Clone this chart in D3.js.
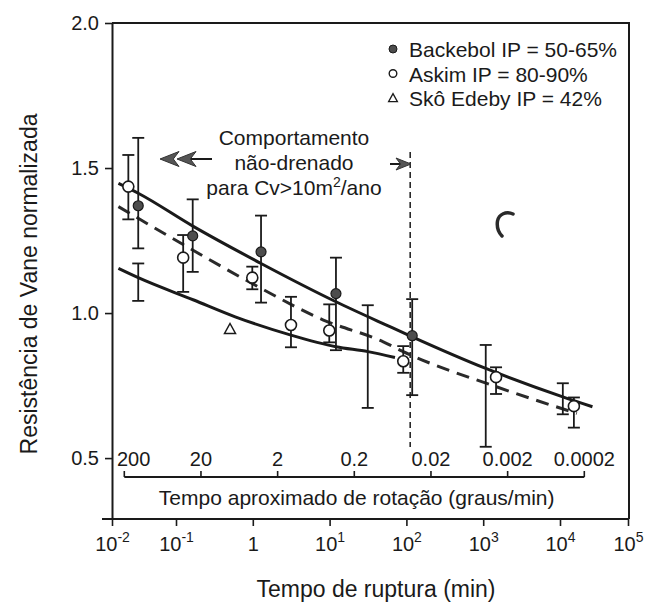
<!DOCTYPE html>
<html>
<head>
<meta charset="utf-8">
<script src="https://cdn.jsdelivr.net/npm/d3@7"></script>
<style>
  html, body { margin: 0; padding: 0; background: #fff; }
  svg text { font-family: "Liberation Sans", Arial, Helvetica, sans-serif; fill: #1a1a1a; }
</style>
</head>
<body>
<svg id="chart" width="645" height="607"></svg>
<script>
// Time to failure (min) and normalised vane strength
const backebol = [
  { t: 0.0257, v: 1.37,  lo: 1.223, hi: 1.604 },
  { t: 0.165,  v: 1.266, lo: 1.142, hi: 1.392 },
  { t: 1.28,   v: 1.211, lo: 1.036, hi: 1.336 },
  { t: 12.1,   v: 1.067, lo: 0.872, hi: 1.191 },
  { t: 119,    v: 0.922, lo: 0.717, hi: 1.048 }
];
const askim = [
  { t: 0.018, v: 1.436, lo: 1.323, hi: 1.545 },
  { t: 0.124, v: 1.191, lo: 1.073, hi: 1.269 },
  { t: 0.985, v: 1.122, lo: 1.082, hi: 1.16 },
  { t: 3.14,  v: 0.959, lo: 0.882, hi: 1.056 },
  { t: 9.9,   v: 0.940, lo: 0.899, hi: 1.030 },
  { t: 91,    v: 0.834, lo: 0.794, hi: 0.886 },
  { t: 1470,  v: 0.779, lo: 0.721, hi: 0.813 },
  { t: 16000, v: 0.679, lo: 0.605, hi: 0.709 }
];
const skoEdeby = [ { t: 0.505, v: 0.945 } ];
// ranges reported without a plotted mean
const rangesOnly = [
  { t: 0.0257, lo: 1.042, hi: 1.171 },
  { t: 31.4,   lo: 0.673, hi: 1.027 },
  { t: 1079,   lo: 0.539, hi: 0.890 },
  { t: 11000,  lo: 0.651, hi: 0.758 }
];
// fitted trends
const upperFit = [[0.0126,1.447],[0.0257,1.413],[0.17,1.298],[1.28,1.171],[12.1,1.039],[61,0.953],[119,0.918],[1080,0.809],[11000,0.711],[30000,0.677]];
const meanFit  = [[0.0126,1.367],[0.138,1.229],[0.98,1.102],[8.3,0.976],[50,0.901],[91,0.867],[1480,0.746],[17700,0.654]];
const lowerFit = [[0.0126,1.154],[0.0257,1.122],[0.17,1.045],[0.59,0.987],[3.14,0.924],[12.1,0.884],[31.6,0.867],[71,0.847]];

const timeTicks = [1e-2, 1e-1, 1, 1e1, 1e2, 1e3, 1e4, 1e5];
const timeExponents = ["-2", "-1", "", "1", "2", "3", "4", "5"];
const strengthTicks = [0.5, 1.0, 1.5, 2.0];
const rotationTicks = [200, 20, 2, 0.2, 0.02, 0.002, 0.0002];
const rotationLabels = ["200", "20", "2", "0.2", "0.02", "0.002", "0.0002"];
const undrainedLimit = 112;   // min
const legendItems = [
  { kind: "filled", label: "Backebol IP = 50-65%" },
  { kind: "open",   label: "Askim IP = 80-90%" },
  { kind: "tri",    label: "Skô Edeby IP = 42%" }
];

const svg = d3.select("#chart");
const ink = "#1a1a1a";

const x = d3.scaleLog().domain([1e-2, 1e-1, 1e4, 1e5]).range([112, 176, 560, 628]);
const y = d3.scaleLinear().domain([0.29, 2.0]).range([519, 23]);
const xr = d3.scaleLog().domain([200, 0.0002]).range([124.3, 584.3]);

// frame
svg.append("path")
  .attr("d", `M${x(1e-2)},${y(2.0)} H629 V${y(0.29)}`)
  .attr("fill", "none").attr("stroke", ink).attr("stroke-width", 2);
svg.append("line")
  .attr("x1", x(1e-2) - 10).attr("x2", x(1e5))
  .attr("y1", y(0.29)).attr("y2", y(0.29))
  .attr("stroke", ink).attr("stroke-width", 2);

// y axis
const yAxis = svg.append("g").attr("transform", `translate(${x(1e-2)},0)`)
  .call(d3.axisLeft(y).tickValues(strengthTicks).tickFormat(d3.format(".1f")).tickSize(7).tickSizeOuter(0));
yAxis.select(".domain").attr("stroke", ink).attr("stroke-width", 2);
yAxis.selectAll(".tick line").attr("stroke", ink).attr("stroke-width", 1.6);
yAxis.selectAll(".tick text").attr("font-size", 20).attr("x", -13).attr("fill", ink)
  .attr("font-family", '"Liberation Sans", Arial, sans-serif');

// x axis
const xAxis = svg.append("g").attr("transform", `translate(0,${y(0.29)})`)
  .call(d3.axisBottom(x).tickValues(timeTicks).tickFormat("").tickSize(7).tickSizeOuter(0));
xAxis.select(".domain").remove();
xAxis.selectAll(".tick line").attr("stroke", ink).attr("stroke-width", 1.6);
xAxis.selectAll(".tick").each(function (d, i) {
  const t = d3.select(this).append("text")
    .attr("y", 32).attr("text-anchor", "middle").attr("font-size", 20).attr("fill", ink)
    .attr("font-family", '"Liberation Sans", Arial, sans-serif');
  if (timeExponents[i] === "") {
    t.text("1");
  } else {
    t.append("tspan").text("10");
    t.append("tspan").attr("dy", -9).attr("font-size", 14).text(timeExponents[i]);
  }
});

// axis titles
svg.append("text").attr("x", 376).attr("y", 597).attr("text-anchor", "middle")
  .attr("font-size", 23).text("Tempo de ruptura (min)");
svg.append("text").attr("transform", "translate(37,284) rotate(-90)")
  .attr("text-anchor", "middle").attr("font-size", 23).text("Resistência de Vane normalizada");

// rotation-rate scale
const rb = 477;
svg.append("line").attr("x1", xr(200)).attr("x2", xr(0.0002)).attr("y1", rb).attr("y2", rb)
  .attr("stroke", ink).attr("stroke-width", 1.8);
svg.selectAll(".rtick").data(rotationTicks).join("line")
  .attr("x1", d => xr(d)).attr("x2", d => xr(d)).attr("y1", rb).attr("y2", rb - 6)
  .attr("stroke", ink).attr("stroke-width", 1.6);
svg.selectAll(".rlab").data(rotationTicks).join("text")
  .attr("x", (d, i) => i === 0 ? x(1e-2) + 5 : xr(d))
  .attr("y", 466)
  .attr("text-anchor", (d, i) => i === 0 ? "start" : "middle")
  .attr("font-size", 20)
  .text((d, i) => rotationLabels[i]);
svg.append("text").attr("x", 356.7).attr("y", 505).attr("text-anchor", "middle")
  .attr("font-size", 21).text("Tempo aproximado de rotação (graus/min)");

// undrained limit
svg.append("line")
  .attr("x1", x(undrainedLimit)).attr("x2", x(undrainedLimit))
  .attr("y1", 152).attr("y2", 447)
  .attr("stroke", ink).attr("stroke-width", 1.5).attr("stroke-dasharray", "6,4");

// fitted trends
const line = d3.line().x(d => x(d[0])).y(d => y(d[1])).curve(d3.curveMonotoneX);
svg.append("path").attr("d", line(upperFit)).attr("fill", "none").attr("stroke", ink).attr("stroke-width", 3);
svg.append("path").attr("d", line(lowerFit)).attr("fill", "none").attr("stroke", ink).attr("stroke-width", 3);
svg.append("path").attr("d", line(meanFit)).attr("fill", "none").attr("stroke", "#2a2a2a")
  .attr("stroke-width", 3).attr("stroke-dasharray", "13,8");

// error bars
function errorBars(data) {
  const g = svg.append("g").attr("stroke", ink).attr("stroke-width", 1.8);
  data.forEach(d => {
    const cx = x(d.t);
    g.append("line").attr("x1", cx).attr("x2", cx).attr("y1", y(d.lo)).attr("y2", y(d.hi));
    g.append("line").attr("x1", cx - 6).attr("x2", cx + 6).attr("y1", y(d.lo)).attr("y2", y(d.lo));
    g.append("line").attr("x1", cx - 6).attr("x2", cx + 6).attr("y1", y(d.hi)).attr("y2", y(d.hi));
  });
}
errorBars(rangesOnly);
errorBars(backebol);
errorBars(askim);

// markers
const tri = s => `M0,${-s * 0.55}L${s * 0.55},${s * 0.45}L${-s * 0.55},${s * 0.45}Z`;
svg.selectAll(".askim").data(askim).join("circle")
  .attr("cx", d => x(d.t)).attr("cy", d => y(d.v)).attr("r", 5.5)
  .attr("fill", "#fff").attr("stroke", ink).attr("stroke-width", 1.6);
svg.selectAll(".backebol").data(backebol).join("circle")
  .attr("cx", d => x(d.t)).attr("cy", d => y(d.v)).attr("r", 5)
  .attr("fill", "#4d4d4d").attr("stroke", ink).attr("stroke-width", 1.2);
svg.selectAll(".sko").data(skoEdeby).join("path")
  .attr("transform", d => `translate(${x(d.t)},${y(d.v)})`)
  .attr("d", tri(10)).attr("fill", "none").attr("stroke", ink).attr("stroke-width", 1.5);

// legend
const lg = svg.append("g");
legendItems.forEach((it, i) => {
  const cy = 49 + i * 24.5;
  if (it.kind === "filled") {
    lg.append("circle").attr("cx", 393).attr("cy", cy).attr("r", 4).attr("fill", "#4d4d4d").attr("stroke", ink);
  } else if (it.kind === "open") {
    lg.append("circle").attr("cx", 393).attr("cy", cy).attr("r", 3.8).attr("fill", "#fff").attr("stroke", ink).attr("stroke-width", 1.4);
  } else {
    lg.append("path").attr("transform", `translate(393,${cy})`).attr("d", tri(8))
      .attr("fill", "none").attr("stroke", ink).attr("stroke-width", 1.3);
  }
  lg.append("text").attr("x", 409).attr("y", cy + 8).attr("font-size", 21).text(it.label);
});

// annotation
const note = svg.append("g").attr("font-size", 21).attr("text-anchor", "middle");
note.append("text").attr("x", 294).attr("y", 145).text("Comportamento");
note.append("text").attr("x", 294).attr("y", 170).text("não-drenado");
const t3 = note.append("text").attr("x", 294).attr("y", 195);
t3.append("tspan").text("para Cv>10m");
t3.append("tspan").attr("dy", -8).attr("font-size", 14).text("2");
t3.append("tspan").attr("dy", 8).text("/ano");

// arrows
function arrowHead(tipX, tipY, dir, len, half) {
  const bx = tipX - dir * len, nx = tipX - dir * len * 0.7;
  return `M${tipX},${tipY}L${bx},${tipY - half}L${nx},${tipY}L${bx},${tipY + half}Z`;
}
const ag = svg.append("g");
ag.append("line").attr("x1", 190).attr("x2", 212).attr("y1", 159).attr("y2", 159).attr("stroke", ink).attr("stroke-width", 2);
ag.append("path").attr("d", arrowHead(160, 159, -1, 19, 7.5)).attr("fill", "#555").attr("stroke", "#333").attr("stroke-width", 1);
ag.append("path").attr("d", arrowHead(177, 159, -1, 19, 7.5)).attr("fill", "#555").attr("stroke", "#333").attr("stroke-width", 1);
ag.append("line").attr("x1", 390).attr("x2", 402).attr("y1", 164).attr("y2", 164).attr("stroke", ink).attr("stroke-width", 2);
ag.append("path").attr("d", arrowHead(411, 164, 1, 15, 6)).attr("fill", "#555").attr("stroke", "#333").attr("stroke-width", 1);

// stray pen stroke
svg.append("path").attr("d", "M513,214 C506,211 499,214 497.5,221 C496.5,228 499,233 502,236")
  .attr("fill", "none").attr("stroke", "#2a2a2a").attr("stroke-width", 3.5).attr("stroke-linecap", "round");
</script>
</body>
</html>
